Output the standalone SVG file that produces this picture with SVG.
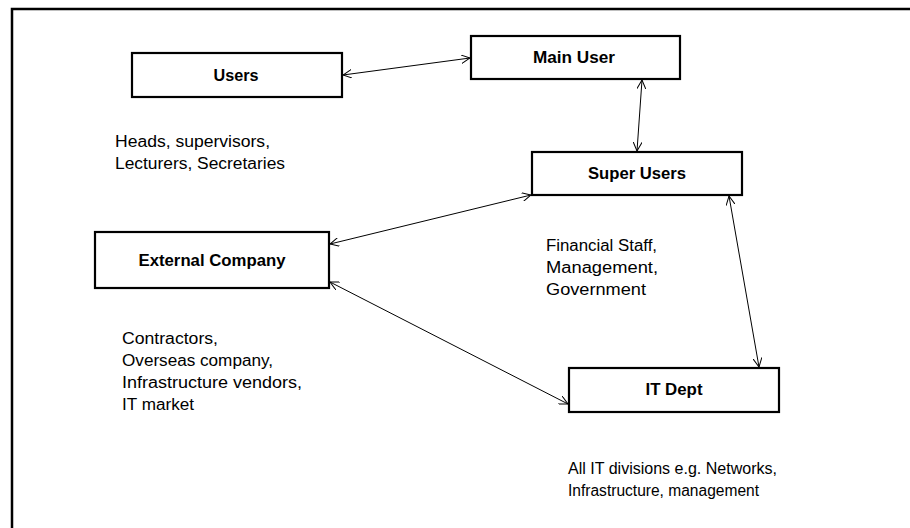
<svg xmlns="http://www.w3.org/2000/svg" width="910" height="528" viewBox="0 0 910 528">
  <style>
    .box { fill: #ffffff; stroke: #000000; stroke-width: 2.2; }
    .label { font-family: "Liberation Sans", Arial, sans-serif; font-weight: bold; font-size: 16px; fill: #000000; text-anchor: middle; }
    .note { font-family: "Liberation Sans", Arial, sans-serif; font-size: 16px; fill: #000000; }
    .link { fill: none; stroke: #000000; stroke-width: 1; marker-start: url(#arrow); marker-end: url(#arrow); }
  </style>
  <defs>
    <marker id="arrow" viewBox="0 0 10 10" refX="10" refY="5" markerWidth="9" markerHeight="9" markerUnits="userSpaceOnUse" orient="auto-start-reverse">
      <path d="M0,0 L10,5 L0,10" fill="none" stroke="#000000" stroke-width="1.1"/>
    </marker>
  </defs>

  <rect width="910" height="528" fill="#ffffff"/>
  <!-- outer frame -->
  <path d="M12,528 V9 H910" fill="none" stroke="#000000" stroke-width="2.5"/>

  <g id="connectors">
    <line class="link" x1="343" y1="75" x2="470" y2="58"/>
    <line class="link" x1="642" y1="80" x2="637" y2="151"/>
    <line class="link" x1="531" y1="195" x2="330" y2="244"/>
    <line class="link" x1="330" y1="282" x2="568" y2="404"/>
    <line class="link" x1="729" y1="196" x2="759" y2="367"/>
  </g>

  <g id="users">
    <rect class="box" x="132" y="53" width="210" height="44"/>
    <text class="label" x="236" y="81" textLength="45" lengthAdjust="spacingAndGlyphs">Users</text>
    <text class="note" x="115" y="147" textLength="155" lengthAdjust="spacingAndGlyphs">Heads, supervisors,</text>
    <text class="note" x="115" y="169" textLength="170" lengthAdjust="spacingAndGlyphs">Lecturers, Secretaries</text>
  </g>

  <g id="main-user">
    <rect class="box" x="471" y="36" width="209" height="43"/>
    <text class="label" x="574" y="63" textLength="82" lengthAdjust="spacingAndGlyphs">Main User</text>
  </g>

  <g id="super-users">
    <rect class="box" x="532" y="152" width="210" height="43"/>
    <text class="label" x="637" y="179" textLength="98" lengthAdjust="spacingAndGlyphs">Super Users</text>
    <text class="note" x="546" y="251" textLength="111" lengthAdjust="spacingAndGlyphs">Financial Staff,</text>
    <text class="note" x="546" y="273" textLength="112" lengthAdjust="spacingAndGlyphs">Management,</text>
    <text class="note" x="546" y="295" textLength="100" lengthAdjust="spacingAndGlyphs">Government</text>
  </g>

  <g id="external-company">
    <rect class="box" x="95" y="232" width="234" height="56"/>
    <text class="label" x="212" y="266" textLength="147" lengthAdjust="spacingAndGlyphs">External Company</text>
    <text class="note" x="122" y="344" textLength="96" lengthAdjust="spacingAndGlyphs">Contractors,</text>
    <text class="note" x="122" y="366" textLength="151" lengthAdjust="spacingAndGlyphs">Overseas company,</text>
    <text class="note" x="122" y="388" textLength="180" lengthAdjust="spacingAndGlyphs">Infrastructure vendors,</text>
    <text class="note" x="122" y="410" textLength="72" lengthAdjust="spacingAndGlyphs">IT market</text>
  </g>

  <g id="it-dept">
    <rect class="box" x="569" y="368" width="210" height="44"/>
    <text class="label" x="674" y="395" textLength="57" lengthAdjust="spacingAndGlyphs">IT Dept</text>
    <text class="note" x="568" y="474" textLength="209" lengthAdjust="spacingAndGlyphs">All IT divisions e.g. Networks,</text>
    <text class="note" x="568" y="496" textLength="191" lengthAdjust="spacingAndGlyphs">Infrastructure, management</text>
  </g>
</svg>
